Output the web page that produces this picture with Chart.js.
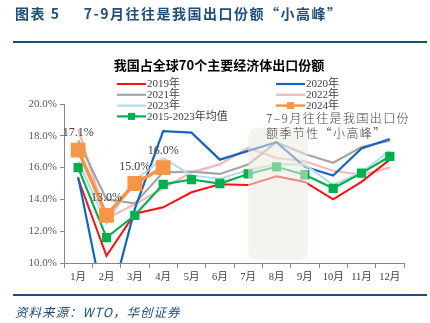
<!DOCTYPE html>
<html>
<head>
<meta charset="utf-8">
<script src="https://cdn.jsdelivr.net/npm/chart.js@4.4.1/dist/chart.umd.min.js"></script>
<style>
  html, body { margin: 0; padding: 0; background: #fff; }
  #wrap { position: relative; width: 430px; height: 323px; overflow: hidden; }
  #chart { position: absolute; left: 0; top: 0; }
  .head { position: absolute; left: 15px; top: 3px; font-family: "Noto Sans CJK SC", sans-serif; font-weight: 700; font-size: 14px; color: #1F4E79; letter-spacing: 1.5px; white-space: nowrap; }
  .rule { position: absolute; left: 13px; width: 414px; background: #1F4E79; }
  .src { position: absolute; left: 15px; top: 302px; font-family: "Noto Sans CJK SC", sans-serif; font-style: italic; font-size: 12.5px; color: #1F4E79; letter-spacing: 1px; white-space: nowrap; }
</style>
</head>
<body>
<div id="wrap">
  <canvas id="chart" width="430" height="323"></canvas>
  <div class="head">图表 5&nbsp;&nbsp;&nbsp;&nbsp;&nbsp;7-9月往往是我国出口份额“小高峰”</div>
  <div class="rule" style="top:41px;height:2px;"></div>
  <div class="rule" style="top:294px;height:1.5px;"></div>
  <div class="src">资料来源：WTO，华创证券</div>
</div>
<script>
// Monthly share (%) of China in exports of 70 major economies
const months = ['1月','2月','3月','4月','5月','6月','7月','8月','9月','10月','11月','12月'];
const yTicks = [10, 12, 14, 16, 18, 20];
const s2019 = [15.3, 10.45, 13.1, 13.5, 14.45, 14.95, 14.9, 15.45, 15.1, 14.0, 15.1, 16.5];
const s2020 = [15.4, 6.6, 13.4, 18.3, 18.2, 16.5, 17.05, 17.6, 16.05, 15.5, 17.2, 17.8];
const s2021 = [17.7, 14.0, 13.75, 15.7, 15.75, 15.6, 16.2, 17.6, 16.85, 16.3, 17.3, 17.7];
const s2022 = [18.4, 12.8, 13.7, 14.7, 15.7, 16.2, 17.25, 16.6, 16.4, 15.8, 15.55, 16.0];
const s2023 = [16.4, 12.5, 15.2, 16.6, 15.5, 15.3, 15.85, 16.2, 16.2, 14.9, 15.7, 17.05];
const s2024 = [17.1, 13.0, 15.0, 16.0];
const sAvg  = [16.0, 11.6, 13.0, 14.95, 15.25, 15.0, 15.6, 16.05, 15.55, 14.7, 15.65, 16.7];

const serif = '"Liberation Serif", "Noto Sans CJK SC", serif';
const C = {
  r19: '#FF1010', b20: '#1565C0', g21: '#A6A6A6', p22: '#F2B8B8',
  l23: '#B7DDE8', o24: '#F79646', avg: '#00B050'
};

function line(label, data, color, width, order, extra) {
  return Object.assign({
    label, data, borderColor: color, backgroundColor: color,
    borderWidth: width, pointRadius: 0, pointHoverRadius: 0,
    tension: 0, order
  }, extra || {});
}

// Highlight band over Jul-Sep plus its note
const bandPlugin = {
  id: 'band',
  afterDatasetsDraw(chart) {
    const { ctx, scales: { x, y }, chartArea } = chart;
    const l = x.getPixelForValue(6), r = x.getPixelForValue(8) + 3;
    const t = y.getPixelForValue(18.5), b = chartArea.bottom - 3;
    ctx.save();
    ctx.fillStyle = 'rgba(237,233,222,0.55)';
    ctx.beginPath();
    ctx.roundRect(l, t, r - l, b - t, 9);
    ctx.fill();
    ctx.fillStyle = '#404040';
    ctx.font = '300 12px "Noto Sans CJK SC", sans-serif';
    ctx.textBaseline = 'middle';
    ctx.letterSpacing = '1.4px';
    ctx.fillText('7–9月往往是我国出口份', 266, 118);
    ctx.fillText('额季节性“小高峰”', 266, 133.5);
    ctx.restore();
  }
};

// Value labels for 2024
const labelPlugin = {
  id: 'vlabels',
  afterDatasetsDraw(chart) {
    const { ctx } = chart;
    const idx = chart.data.datasets.findIndex(d => d.label === '2024年');
    const meta = chart.getDatasetMeta(idx);
    ctx.save();
    ctx.fillStyle = '#404040';
    ctx.font = '12px ' + serif;
    ctx.textAlign = 'center';
    ctx.textBaseline = 'middle';
    meta.data.forEach((pt, i) => {
      ctx.fillText(s2024[i].toFixed(1) + '%', pt.x, pt.y - 17);
    });
    ctx.restore();
  }
};

// Title and two-column legend
const headPlugin = {
  id: 'headlegend',
  afterDraw(chart) {
    const { ctx } = chart;
    ctx.save();
    ctx.fillStyle = '#000';
    ctx.font = '700 13px "Noto Sans CJK SC", sans-serif';
    ctx.textAlign = 'center';
    ctx.textBaseline = 'middle';
    ctx.fillText('我国占全球70个主要经济体出口份额', 219, 65);
    const ds = chart.data.datasets;
    const find = l => ds.find(d => d.label === l);
    const cols = [
      { x: 117, items: ['2019年', '2021年', '2023年', '2015-2023年均值'] },
      { x: 276, items: ['2020年', '2022年', '2024年'] }
    ];
    ctx.textAlign = 'left';
    ctx.font = '11px ' + serif;
    cols.forEach(col => {
      col.items.forEach((lab, i) => {
        const d = find(lab);
        const yy = 84 + i * 10.8;
        ctx.strokeStyle = d.borderColor;
        ctx.lineWidth = Math.min(d.borderWidth, 2.5);
        ctx.beginPath();
        ctx.moveTo(col.x, yy);
        ctx.lineTo(col.x + 29, yy);
        ctx.stroke();
        if (d.pointRadius) {
          ctx.fillStyle = d.borderColor;
          ctx.fillRect(col.x + 11, yy - 3.5, 7, 7);
        }
        ctx.fillStyle = '#404040';
        ctx.fillText(lab, col.x + 30, yy + 0.5);
      });
    });
    ctx.restore();
  }
};

new Chart(document.getElementById('chart'), {
  type: 'line',
  data: {
    labels: months,
    datasets: [
      line('2019年', s2019, C.r19, 2, 6),
      line('2020年', s2020, C.b20, 2.2, 5),
      line('2021年', s2021, C.g21, 2.2, 7),
      line('2022年', s2022, C.p22, 2.2, 8),
      line('2023年', s2023, C.l23, 2.2, 4),
      line('2024年', s2024, C.o24, 3.5, 1, { pointRadius: 8, pointStyle: 'rect' }),
      line('2015-2023年均值', sAvg, C.avg, 2.2, 2, { pointRadius: 5, pointStyle: 'rect' })
    ]
  },
  options: {
    responsive: false,
    animation: false,
    events: [],
    layout: { padding: { left: 0, right: 26, top: 104, bottom: 35 } },
    plugins: { legend: { display: false }, tooltip: { enabled: false }, title: { display: false } },
    scales: {
      x: {
        type: 'category',
        offset: true,
        afterFit(s) { s.height = 25; },
        grid: { display: true, drawOnChartArea: false, offset: true, tickLength: 5, color: '#868686' },
        border: { display: true, color: '#868686', width: 1 },
        ticks: { color: '#404040', font: { family: serif, size: 10.5 }, padding: 3, maxRotation: 0, autoSkip: false }
      },
      y: {
        min: 10, max: 20,
        afterFit(s) { s.width = 64; },
        afterBuildTicks(s) { s.ticks = yTicks.map(v => ({ value: v })); },
        grid: { display: true, drawOnChartArea: false, tickLength: 4, color: '#868686' },
        border: { display: true, color: '#868686', width: 1 },
        ticks: { color: '#595959', font: { family: serif, size: 11 }, padding: 3,
                 callback: v => Number(v).toFixed(1) + '%' }
      }
    }
  },
  plugins: [bandPlugin, labelPlugin, headPlugin]
});
</script>
</body>
</html>
